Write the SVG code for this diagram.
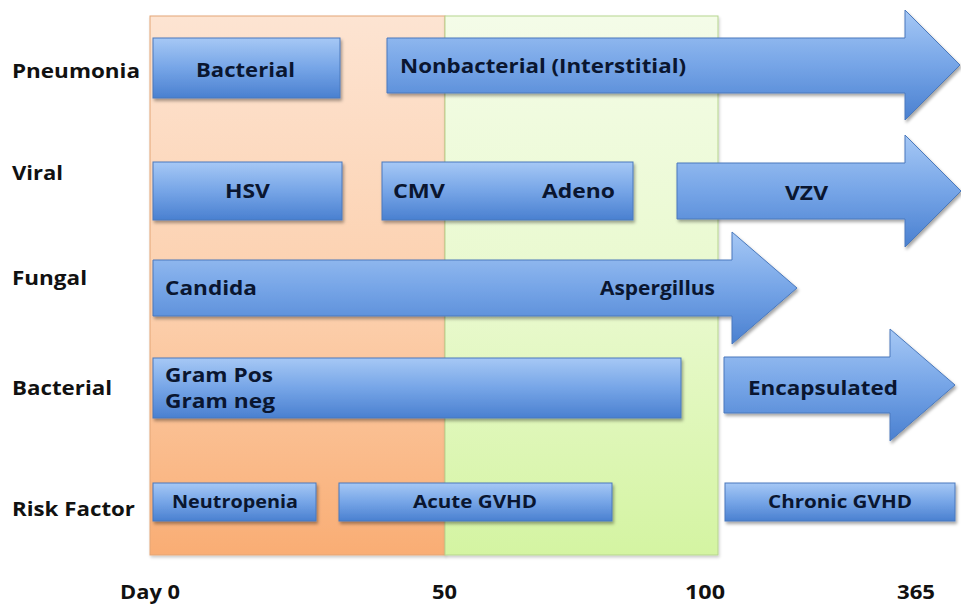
<svg xmlns="http://www.w3.org/2000/svg" width="961" height="604" viewBox="0 0 961 604">
<defs>
<linearGradient id="gBlue" x1="0" y1="0" x2="0" y2="1">
<stop offset="0" stop-color="#a6c8f5"/>
<stop offset="0.5" stop-color="#76a5e7"/>
<stop offset="1" stop-color="#4a80d0"/>
</linearGradient>
<linearGradient id="gOrange" x1="0" y1="0" x2="0" y2="1">
<stop offset="0" stop-color="#fde4d2"/>
<stop offset="0.55" stop-color="#fccfac"/>
<stop offset="1" stop-color="#f9ad74"/>
</linearGradient>
<linearGradient id="gGreen" x1="0" y1="0" x2="0" y2="1">
<stop offset="0" stop-color="#f4fce8"/>
<stop offset="0.55" stop-color="#e8f9cc"/>
<stop offset="1" stop-color="#d4f4a2"/>
</linearGradient>
<filter id="sh" x="-10%" y="-20%" width="120%" height="150%">
<feDropShadow dx="1.5" dy="2.5" stdDeviation="1.8" flood-color="#000" flood-opacity="0.35"/>
</filter>
<filter id="shBg" x="-5%" y="-5%" width="110%" height="110%">
<feDropShadow dx="1" dy="2" stdDeviation="1.5" flood-color="#000" flood-opacity="0.2"/>
</filter>
</defs>
<style>
.box{fill:url(#gBlue);stroke:#4a79bd;stroke-width:1;filter:url(#sh)}
.lbl{font-family:"Open Sans","Liberation Sans",sans-serif;font-weight:bold;font-size:20px;fill:#111111}
.in{font-family:"Open Sans","Liberation Sans",sans-serif;font-weight:bold;font-size:20px;fill:#0a1630}
.rf{font-family:"Open Sans","Liberation Sans",sans-serif;font-weight:bold;font-size:18px;fill:#0a1630}
.day{font-family:"Open Sans","Liberation Sans",sans-serif;font-weight:bold;font-size:19px;fill:#111111}
</style>
<rect width="961" height="604" fill="#ffffff"/>
<g id="background">
<rect x="150" y="16" width="295" height="539" fill="url(#gOrange)" stroke="#e3a577" stroke-width="1" filter="url(#shBg)"/>
<rect x="445" y="16" width="273" height="539" fill="url(#gGreen)" stroke="#b6d58f" stroke-width="1" filter="url(#shBg)"/>
</g>
<g id="row-labels">
<text class="lbl" x="12" y="78" textLength="128" lengthAdjust="spacingAndGlyphs">Pneumonia</text>
<text class="lbl" x="12" y="180" textLength="51" lengthAdjust="spacingAndGlyphs">Viral</text>
<text class="lbl" x="12" y="285" textLength="75" lengthAdjust="spacingAndGlyphs">Fungal</text>
<text class="lbl" x="12" y="395" textLength="100" lengthAdjust="spacingAndGlyphs">Bacterial</text>
<text class="lbl" x="12" y="516" textLength="123" lengthAdjust="spacingAndGlyphs">Risk Factor</text>
</g>
<g id="node-bacterial-pneumonia">
<rect class="box" x="153" y="38" width="187" height="60"/>
<text class="in" x="196" y="77" textLength="99" lengthAdjust="spacingAndGlyphs">Bacterial</text>
</g>
<g id="node-nonbacterial">
<path class="box" d="M387,38 H905 V10 L960,65 L905,120 V93 H387 Z"/>
<text class="in" x="400" y="73" textLength="286" lengthAdjust="spacingAndGlyphs">Nonbacterial (Interstitial)</text>
</g>
<g id="node-hsv">
<rect class="box" x="153" y="162" width="189" height="58"/>
<text class="in" x="225" y="198" textLength="45" lengthAdjust="spacingAndGlyphs">HSV</text>
</g>
<g id="node-cmv-adeno">
<rect class="box" x="382" y="162" width="251" height="58"/>
<text class="in" x="393" y="198" textLength="52" lengthAdjust="spacingAndGlyphs">CMV</text>
<text class="in" x="542" y="198" textLength="73" lengthAdjust="spacingAndGlyphs">Adeno</text>
</g>
<g id="node-vzv">
<path class="box" d="M677,163 H905 V135 L961,191 L905,247 V219 H677 Z"/>
<text class="in" x="785" y="200" textLength="43" lengthAdjust="spacingAndGlyphs">VZV</text>
</g>
<g id="node-fungal">
<path class="box" d="M153,260 H732 V232 L797,288 L732,344 V316 H153 Z"/>
<text class="in" x="165" y="295" textLength="92" lengthAdjust="spacingAndGlyphs">Candida</text>
<text class="in" x="600" y="295" textLength="115" lengthAdjust="spacingAndGlyphs">Aspergillus</text>
</g>
<g id="node-gram">
<rect class="box" x="153" y="358" width="528" height="60"/>
<text class="in" x="165" y="382" textLength="108" lengthAdjust="spacingAndGlyphs">Gram Pos</text>
<text class="in" x="165" y="408" textLength="110" lengthAdjust="spacingAndGlyphs">Gram neg</text>
</g>
<g id="node-encapsulated">
<path class="box" d="M724,357 H890 V329 L955,385 L890,441 V413 H724 Z"/>
<text class="in" x="748" y="395" textLength="150" lengthAdjust="spacingAndGlyphs">Encapsulated</text>
</g>
<g id="node-neutropenia">
<rect class="box" x="153" y="483" width="163" height="38"/>
<text class="rf" x="172" y="508" textLength="126" lengthAdjust="spacingAndGlyphs">Neutropenia</text>
</g>
<g id="node-acute-gvhd">
<rect class="box" x="339" y="483" width="273" height="38"/>
<text class="rf" x="413" y="508" textLength="124" lengthAdjust="spacingAndGlyphs">Acute GVHD</text>
</g>
<g id="node-chronic-gvhd">
<rect class="box" x="725" y="483" width="230" height="38"/>
<text class="rf" x="768" y="508" textLength="144" lengthAdjust="spacingAndGlyphs">Chronic GVHD</text>
</g>
<g id="axis-labels">
<text class="day" x="120" y="599" textLength="60" lengthAdjust="spacingAndGlyphs">Day 0</text>
<text class="day" x="432" y="599" textLength="25" lengthAdjust="spacingAndGlyphs">50</text>
<text class="day" x="685" y="599" textLength="40" lengthAdjust="spacingAndGlyphs">100</text>
<text class="day" x="897" y="599" textLength="38" lengthAdjust="spacingAndGlyphs">365</text>
</g>
<g id="connectors"/>
</svg>
